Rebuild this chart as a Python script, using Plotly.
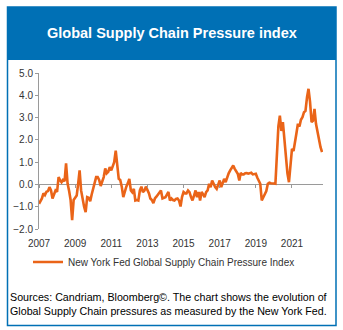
import plotly.graph_objects as go
import pandas as pd

# ---------------- data (monthly, Jan 2007 - Sep 2022) ----------------
start_month = "2007-01-01"
gscpi = [
    # 2007
    -0.87, -0.75, -0.63, -0.40, -0.48, -0.33, -0.30, -0.12, -0.27, -0.63, -0.45, -0.27,
    # 2008
    -0.33, 0.33, 0.20, 0.10, 0.20, 0.15, 0.95, 0.04, -0.30, -0.70, -1.60, -0.70,
    # 2009
    -0.60, -0.50, 0.00, 0.63, -0.27, -0.72, -1.00, -1.24, -0.57, -0.60, -0.75, -0.45,
    # 2010
    -0.19, 0.05, 0.33, 0.33, 0.20, -0.07, 0.10, 0.33, 0.72, 0.50, 0.57, 0.78,
    # 2011
    0.63, 0.80, 1.00, 1.52, 0.93, 0.25, 0.20, -0.10, -0.57, -0.27, -0.10, 0.05,
    # 2012
    0.25, -0.27, -0.35, -0.20, -0.72, -0.70, -0.72, -0.27, -0.10, -0.35, -0.27, -0.10,
    # 2013
    -0.25, -0.40, -0.63, -0.70, -0.84, -0.63, -0.55, -0.45, -0.40, -0.27, -0.63, -0.60,
    # 2014
    -0.57, -0.45, -0.34, -0.72, -0.63, -0.70, -0.72, -0.65, -0.63, -0.72, -0.99, -0.57,
    # 2015
    -0.34, -0.40, -0.40, -0.27, -0.35, -0.57, -0.72, -0.50, -0.27, -0.57, -0.34, -0.72,
    # 2016
    -0.34, -0.45, -0.57, -0.35, -0.27, 0.03, -0.12, 0.18, 0.00, -0.12, -0.20, 0.03,
    # 2017
    0.18, -0.12, 0.05, 0.25, 0.10, 0.33, 0.50, 0.63, 0.75, 0.85, 0.70, 0.60,
    # 2018
    0.48, 0.18, 0.51, 0.45, 0.45, 0.50, 0.51, 0.48, 0.50, 0.52, 0.45, 0.48,
    # 2019
    0.48, 0.30, 0.18, 0.03, -0.72, -0.57, -0.50, -0.30, 0.03, 0.08, 0.05, 0.03,
    # 2020
    0.04, 0.03, 1.40, 2.60, 3.09, 2.40, 2.80, 1.90, 1.20, 0.50, 0.10, 0.90,
    # 2021
    1.60, 1.50, 1.97, 2.30, 2.72, 2.60, 2.90, 3.02, 3.24, 3.30, 3.91, 4.29,
    # 2022
    3.70, 2.80, 2.85, 3.39, 2.72, 2.35, 2.00, 1.67, 1.45,
]
dates = pd.date_range(start_month, periods=len(gscpi), freq="MS")

x_tick_labels = ["2007", "2009", "2011", "2013", "2015", "2017", "2019", "2021"]
x_tick_vals = [f"{y}-01-01" for y in x_tick_labels]
y_tick_vals = [-2, -1, 0, 1, 2, 3, 4, 5]

series_name = "New York Fed Global Supply Chain Pressure Index"
title_text = "Global Supply Chain Pressure index"
source_text = ("Sources: Candriam, Bloomberg\u00a9. The chart shows the evolution of<br>"
               "Global Supply Chain pressures as measured by the New York Fed.")

# ---------------- layout geometry ----------------
W, H = 343, 330
ML, MR, MT, MB = 39, 20, 73, 101
PW, PH = W - ML - MR, H - MT - MB


def px(x):
    return (x - ML) / PW


def py(y):
    return (H - MB - y) / PH


ORANGE = "#EA6418"
BLUE = "#0070B5"
AXIS = "#9A9A9A"
FONT = "Liberation Sans, Arial, sans-serif"

fig = go.Figure()
fig.add_trace(go.Scatter(
    x=dates, y=gscpi, mode="lines", name=series_name,
    line=dict(color=ORANGE, width=2.6),
))
# same series on an overlaid axis that only carries the tick marks on the zero line
fig.add_trace(go.Scatter(
    x=dates, y=gscpi, mode="lines", xaxis="x2", showlegend=False,
    hoverinfo="skip", line=dict(color="rgba(0,0,0,0)", width=0),
))

fig.update_layout(
    width=W, height=H, autosize=False,
    margin=dict(l=ML, r=MR, t=MT, b=MB, pad=0),
    paper_bgcolor="white", plot_bgcolor="white",
    font=dict(family=FONT, size=10, color="#333333"),
    showlegend=True,
    legend=dict(orientation="h", x=px(164), xanchor="center", y=py(262), yanchor="middle",
                font=dict(size=10, color="#333333"), bgcolor="rgba(0,0,0,0)",
                itemwidth=30, tracegroupgap=0),
    xaxis=dict(
        type="date", range=["2007-01-01", "2022-09-20"],
        tickvals=x_tick_vals, ticktext=x_tick_labels,
        showgrid=False, zeroline=False, showline=False,
        ticks="outside", ticklen=5, tickcolor="rgba(0,0,0,0)",
        tickfont=dict(size=10, color="#333333"),
    ),
    xaxis2=dict(
        type="date", overlaying="x", matches="x", anchor="free",
        position=2 / 7, tickvals=x_tick_vals, showticklabels=False,
        showgrid=False, zeroline=False, showline=False,
        ticks="outside", ticklen=3, tickcolor=AXIS, tickwidth=1,
    ),
    yaxis=dict(
        range=[-2, 5], tickvals=y_tick_vals, tickformat=".1f",
        showgrid=False, zeroline=True, zerolinecolor=AXIS, zerolinewidth=1,
        showline=True, linecolor=AXIS, linewidth=1,
        ticks="outside", ticklen=3, tickcolor=AXIS,
        tickfont=dict(size=10, color="#333333"),
    ),
    shapes=[
        dict(type="rect", xref="paper", yref="paper",
             x0=px(7), x1=px(336), y0=py(60), y1=py(7),
             fillcolor=BLUE, line=dict(width=0), layer="below"),
        dict(type="rect", xref="paper", yref="paper",
             x0=px(7.5), x1=px(336), y0=py(325.5), y1=py(7),
             fillcolor="rgba(0,0,0,0)", line=dict(color=BLUE, width=1.5), layer="below"),
    ],
    annotations=[
        dict(text=f"<b>{title_text}</b>", xref="paper", yref="paper",
             x=px(171.5), y=py(33), xanchor="center", yanchor="middle",
             showarrow=False, font=dict(family=FONT, size=14.5, color="white")),
        dict(text=source_text, xref="paper", yref="paper",
             x=px(8), y=py(303.5), xanchor="left", yanchor="middle", align="left",
             showarrow=False, font=dict(family=FONT, size=10.7, color="black")),
    ],
)

fig.write_html("out.html")
